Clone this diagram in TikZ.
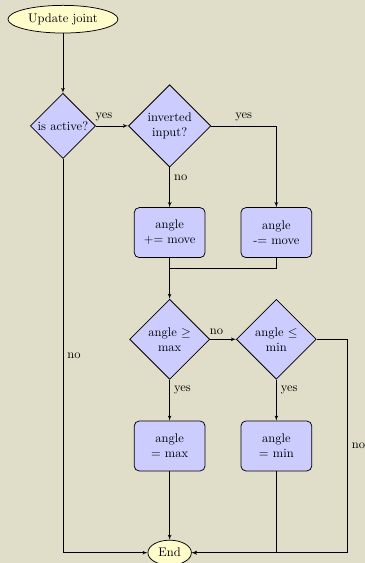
\documentclass[tikz,border=0pt]{standalone}
\usepackage{amsmath}
\usepackage{amssymb}
\usetikzlibrary{shapes}
\usetikzlibrary{arrows}
\definecolor{pagebg}{RGB}{224,222,200}

\begin{document}
\begin{tikzpicture}[
    decision/.style={diamond, draw, semithick, fill=blue!20, text width=4.5em,
      align=center, inner sep=0pt},
    block/.style={rectangle, draw, semithick, fill=blue!20, text width=5em,
      align=center, rounded corners, minimum height=4em},
    terminal/.style={ellipse, draw, semithick, fill=yellow!20, minimum height=2em},
    line/.style={draw, -latex'}]

    \path[fill=pagebg, use as bounding box] (-1.77,-12.29) rectangle (8.49,3.54);

    % nodes, on a 3cm grid
    \node[terminal] (start) at (0,3) {Update joint};
    \node[decision] (active) at (0,0) {is active?};
    \node[decision] (inverted) at (3,0) {inverted\\input?};
    \node[block] (add) at (3,-3) {angle\\+= move};
    \node[block] (sub) at (6,-3) {angle\\-= move};
    \node[decision] (atmax) at (3,-6) {angle $\geq$\\max};
    \node[decision] (atmin) at (6,-6) {angle $\leq$\\min};
    \node[block] (setmax) at (3,-9) {angle\\= max};
    \node[block] (setmin) at (6,-9) {angle\\= min};
    \node[terminal] (end) at (3,-12) {End};
    \coordinate (join) at (3,-4);
    \coordinate (bend) at (8,-12);

    % edges
    \path[line] (start) -- (active);
    \path[line] (active) -- node[near start, above]{yes} (inverted);
    \path[line] (inverted) -| node[near start, above]{yes} (sub);
    \path[line] (inverted) -- node[near start, right]{no} (add);
    \path[line] (add) -- (atmax);
    \draw (sub) |- (join);
    \path[line] (atmax) -- node[near start, above]{no} (atmin);
    \path[line] (atmax) -- node[near start, right]{yes} (setmax);
    \path[line] (atmin) -- node[near start, right]{yes} (setmin);
    \path[line] (setmax) -- (end);
    \path[line] (setmin) |- (end);
    \path[line] (atmin) -| node[near end, right]{no} (bend) -- (end);
    \path[line] (active) |- node[near start, right]{no} (end);

\end{tikzpicture}
\end{document}
